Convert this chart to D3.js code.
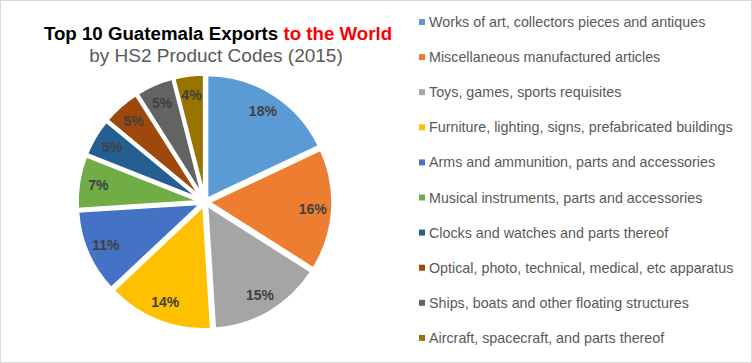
<!DOCTYPE html>
<html>
<head>
<meta charset="utf-8">
<script src="https://cdn.jsdelivr.net/npm/d3@7"></script>
<style>
    body { margin: 0; background: #fff; }
    svg { display: block; font-family: Arial, "Liberation Sans", sans-serif; }
</style>
</head>
<body>
<div id="chart"></div>
<script>
// data
const categories = [
    "Works of art, collectors pieces and antiques",
    "Miscellaneous manufactured articles",
    "Toys, games, sports requisites",
    "Furniture, lighting, signs, prefabricated buildings",
    "Arms and ammunition, parts and accessories",
    "Musical instruments, parts and accessories",
    "Clocks and watches and parts thereof",
    "Optical, photo, technical, medical, etc apparatus",
    "Ships, boats and other floating structures",
    "Aircraft, spacecraft, and parts thereof"
];
const shares = [18, 16, 15, 14, 11, 7, 5, 5, 5, 4];
const colors = ["#5B9BD5", "#ED7D31", "#A5A5A5", "#FFC000", "#4472C4",
                "#70AD47", "#255E91", "#9E480E", "#636363", "#997300"];

const width = 752, height = 363;

let svg = d3.select("#chart").append("svg")
    .attr("width", width)
    .attr("height", height);

// border
svg.append("rect")
    .attr("x", 0.5).attr("y", 0.5)
    .attr("width", width - 1).attr("height", height - 1)
    .attr("fill", "#fff")
    .attr("stroke", "#d9d9d9");

// title
let title = svg.append("text")
    .attr("x", 218)
    .attr("y", 40)
    .attr("text-anchor", "middle")
    .style("font-size", "18.7px")
    .style("font-weight", "bold");
title.append("tspan").attr("fill", "#000").text("Top 10 Guatemala Exports ");
title.append("tspan").attr("fill", "#ff0000").text("to the World");

svg.append("text")
    .attr("x", 216)
    .attr("y", 62)
    .attr("text-anchor", "middle")
    .attr("fill", "#595959")
    .style("font-size", "19px")
    .text("by HS2 Product Codes (2015)");

// pie
const cx = 205, cy = 202, radius = 125, explode = 3;

let pie = d3.pie().sort(null).value(d => d)(shares);
let arc = d3.arc().innerRadius(0).outerRadius(radius);
let labelArc = d3.arc().innerRadius(radius * 0.84).outerRadius(radius * 0.84);

let pieGroup = svg.append("g")
    .attr("transform", `translate(${cx}, ${cy})`);

let slices = pieGroup.selectAll(".slice")
    .data(pie)
    .enter().append("g")
    .attr("class", "slice")
    .attr("transform", d => {
        let a = (d.startAngle + d.endAngle) / 2;
        return `translate(${Math.sin(a) * explode}, ${-Math.cos(a) * explode})`;
    });

slices.append("path")
    .attr("d", arc)
    .attr("fill", (d, i) => colors[i])
    .attr("stroke", "#fff")
    .attr("stroke-width", 3.5)
    .attr("stroke-linejoin", "round");

slices.append("text")
    .attr("transform", d => `translate(${labelArc.centroid(d)})`)
    .attr("text-anchor", "middle")
    .attr("dy", "0.35em")
    .attr("fill", "#404040")
    .style("font-size", "14px")
    .style("font-weight", "bold")
    .text(d => d.data + "%");

// legend
let legend = svg.append("g")
    .attr("transform", "translate(419, 22)");

let items = legend.selectAll(".item")
    .data(categories)
    .enter().append("g")
    .attr("class", "item")
    .attr("transform", (d, i) => `translate(0, ${i * 35.1})`);

items.append("rect")
    .attr("x", 0).attr("y", -3)
    .attr("width", 6).attr("height", 6)
    .attr("fill", (d, i) => colors[i]);

items.append("text")
    .attr("x", 10)
    .attr("dy", "0.35em")
    .attr("fill", "#595959")
    .style("font-size", "14.3px")
    .text(d => d);
</script>
</body>
</html>
